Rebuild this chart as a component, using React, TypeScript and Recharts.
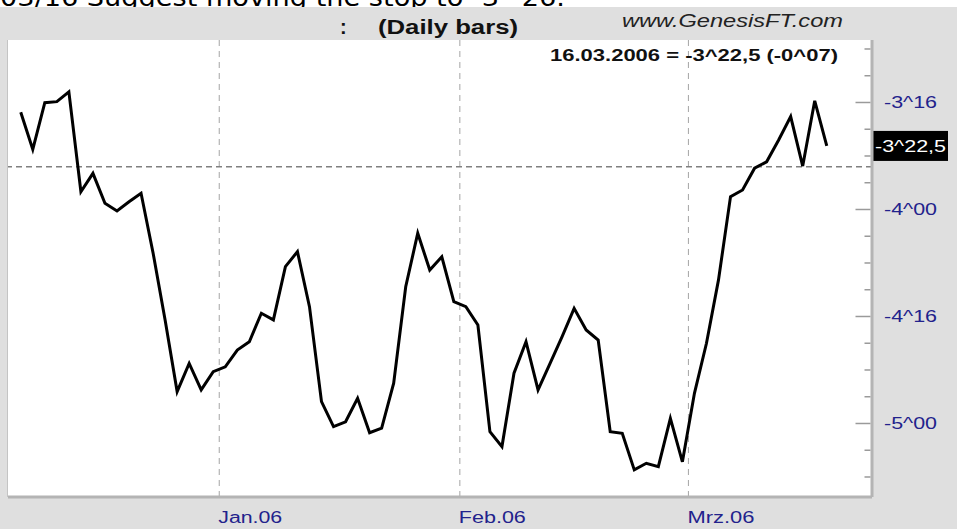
import React from 'react';
import { LineChart, Line, XAxis, YAxis, ReferenceLine } from 'recharts';

// Trading days shown on the chart (Dec 7 2005 .. Mar 16 2006)
const dates = [
  '07.12.2005', '08.12.2005', '09.12.2005', '12.12.2005', '13.12.2005', '14.12.2005', '15.12.2005', '16.12.2005',
  '19.12.2005', '20.12.2005', '21.12.2005', '22.12.2005', '23.12.2005', '27.12.2005', '28.12.2005', '29.12.2005',
  '30.12.2005',
  '03.01.2006', '04.01.2006', '05.01.2006', '06.01.2006', '09.01.2006', '10.01.2006', '11.01.2006', '12.01.2006',
  '13.01.2006', '17.01.2006', '18.01.2006', '19.01.2006', '20.01.2006', '23.01.2006', '24.01.2006', '25.01.2006',
  '26.01.2006', '27.01.2006', '30.01.2006', '31.01.2006',
  '01.02.2006', '02.02.2006', '03.02.2006', '06.02.2006', '07.02.2006', '08.02.2006', '09.02.2006', '10.02.2006',
  '13.02.2006', '14.02.2006', '15.02.2006', '16.02.2006', '17.02.2006', '21.02.2006', '22.02.2006', '23.02.2006',
  '24.02.2006', '27.02.2006', '28.02.2006',
  '01.03.2006', '02.03.2006', '03.03.2006', '06.03.2006', '07.03.2006', '08.03.2006', '09.03.2006', '10.03.2006',
  '13.03.2006', '14.03.2006', '15.03.2006', '16.03.2006',
];

// Daily closes (points, decimal)
const values = [
  -3.546, -3.719, -3.501, -3.496, -3.450, -3.917, -3.831, -3.971, -4.007, -3.964,
  -3.924, -4.203, -4.516, -4.851, -4.719, -4.843, -4.758, -4.735, -4.657, -4.618,
  -4.485, -4.516, -4.267, -4.197, -4.454, -4.898, -5.015, -4.992, -4.882, -5.043,
  -5.022, -4.812, -4.361, -4.111, -4.283, -4.221, -4.431, -4.454, -4.540, -5.038,
  -5.108, -4.765, -4.618, -4.843, -4.719, -4.594, -4.462, -4.563, -4.610, -5.038,
  -5.046, -5.217, -5.186, -5.202, -4.976, -5.179, -4.859, -4.625, -4.329, -3.940,
  -3.909, -3.807, -3.777, -3.675, -3.566, -3.797, -3.492, -3.703,
];

// Month boundaries (between trading-day indices) and their labels
const monthTicks = [16.5, 36.5, 55.5];
const monthLabels = ['Jan.06', 'Feb.06', 'Mrz.06'];

// Price axis ticks (every 4/32)
const priceTicks = [
  -3.25, -3.375, -3.5, -3.625, -3.75, -3.875, -4, -4.125, -4.25,
  -4.375, -4.5, -4.625, -4.75, -4.875, -5, -5.125, -5.25,
];

const stopLevel = -3.8;
const lastValue = -3.703;
const lastLabel = '-3^22,5';
const noteText = '03/16 Suggest moving the stop to -3^26.';
const colonText = ':';
const titleText = '(Daily bars)';
const siteText = 'www.GenesisFT.com';
const infoText = '16.03.2006 = -3^22,5 (-0^07)';

const data = values.map((v, i) => ({ i, date: dates[i], v }));

function fmt32(v: number): string {
  const a = -v;
  const whole = Math.floor(a + 1e-9);
  const frac = Math.round((a - whole) * 32);
  return '-' + whole + '^' + String(frac).padStart(2, '0');
}

const AXIS_FONT = '"Liberation Sans", Arial, sans-serif';

const YTick = (props: any) => {
  const { x, y, payload } = props;
  const v = payload.value;
  const major = Math.abs(v * 2 - Math.round(v * 2)) < 1e-6;
  const ax = x - 1.5;
  return (
    <g>
      <line x1={ax - (major ? 15 : 6)} x2={ax} y1={y} y2={y} stroke="#9a9a9a" strokeWidth={1.5} />
      {major && (
        <text
          x={x + 12}
          y={y + 6}
          fill="#22228c"
          fontSize={16}
          fontFamily={AXIS_FONT}
          textLength={53}
          lengthAdjust="spacingAndGlyphs"
        >
          {fmt32(v)}
        </text>
      )}
    </g>
  );
};

const XTick = (props: any) => {
  const { x, y, payload, index } = props;
  const idx = monthTicks.indexOf(payload.value);
  const label = monthLabels[idx >= 0 ? idx : index];
  return (
    <text
      x={x - 1}
      y={y + 26}
      fill="#22228c"
      fontSize={16}
      fontFamily={AXIS_FONT}
      textLength={idx === 0 ? 64 : 67}
      lengthAdjust="spacingAndGlyphs"
    >
      {label}
    </text>
  );
};

const LastLabel = (props: any) => {
  const vb = props.viewBox || {};
  const bx = (vb.x || 0) + (vb.width || 0) + 1;
  const y = vb.y || 0;
  return (
    <g>
      <rect x={bx} y={y - 15} width={75} height={30} fill="#000" />
      <text
        x={bx + 2}
        y={y + 6}
        fill="#fff"
        fontSize={16}
        fontFamily={AXIS_FONT}
        textLength={71}
        lengthAdjust="spacingAndGlyphs"
      >
        {lastLabel}
      </text>
    </g>
  );
};

export default function App() {
  return (
    <div style={{ position: 'absolute', left: 0, top: 0, width: 957, height: 529, background: '#fff', overflow: 'hidden' }}>
      <div style={{ position: 'absolute', left: 0, top: 7, width: 957, height: 522, background: '#dfdfdf' }} />
      <div
        style={{
          position: 'absolute',
          left: 7,
          top: 40,
          width: 865,
          height: 457,
          background: '#fff',
          borderLeft: '1px solid #c4c4c4',
          boxSizing: 'border-box',
        }}
      />
      <div style={{ position: 'absolute', left: 0, top: 0 }}>
        <LineChart width={957} height={529} data={data} margin={{ top: 40, right: 0, left: 8, bottom: 0 }}>
          <XAxis
            dataKey="i"
            type="number"
            domain={[-1.06, 70.76]}
            allowDataOverflow
            ticks={monthTicks}
            interval={0}
            height={32}
            tickSize={0}
            tickMargin={0}
            tickLine={false}
            axisLine={{ stroke: '#b4b4b4', strokeWidth: 3 }}
            tick={<XTick />}
          />
          <YAxis
            orientation="right"
            type="number"
            domain={[-5.3435, -3.208]}
            allowDataOverflow
            ticks={priceTicks}
            interval={0}
            width={85}
            tickSize={0}
            tickMargin={0}
            tickLine={false}
            axisLine={{ stroke: '#b4b4b4', strokeWidth: 3 }}
            tick={<YTick />}
          />
          {monthTicks.map((m) => (
            <ReferenceLine key={m} x={m} stroke="#a4a4a4" strokeWidth={1} strokeDasharray="6 5" />
          ))}
          <ReferenceLine y={stopLevel} stroke="#808080" strokeWidth={1.5} strokeDasharray="6 4" />
          <ReferenceLine y={lastValue} stroke="transparent" label={(p: any) => <LastLabel {...p} />} />
          <Line
            type="linear"
            dataKey="v"
            stroke="#000"
            strokeWidth={3}
            dot={false}
            activeDot={false}
            isAnimationActive={false}
          />
        </LineChart>
      </div>
      <svg width={957} height={70} style={{ position: 'absolute', left: 0, top: 0, pointerEvents: 'none' }}>
        <defs>
          <clipPath id="noteClip">
            <rect x={0} y={0} width={957} height={7} />
          </clipPath>
        </defs>
        <text
          x={0}
          y={6}
          clipPath="url(#noteClip)"
          fontSize={24}
          fontFamily='"DejaVu Sans", Verdana, sans-serif'
          fill="#000"
          textLength={565}
          lengthAdjust="spacingAndGlyphs"
        >
          {noteText}
        </text>
        <text x={340} y={34} fontSize={20} fontWeight="bold" fontFamily={AXIS_FONT} fill="#111">
          {colonText}
        </text>
        <text
          x={378}
          y={34}
          fontSize={20}
          fontWeight="bold"
          fontFamily={AXIS_FONT}
          fill="#111"
          textLength={140}
          lengthAdjust="spacingAndGlyphs"
        >
          {titleText}
        </text>
        <text
          x={622}
          y={27}
          fontSize={18}
          fontStyle="italic"
          fontFamily={AXIS_FONT}
          fill="#222"
          textLength={221}
          lengthAdjust="spacingAndGlyphs"
        >
          {siteText}
        </text>
        <text
          x={550}
          y={61}
          fontSize={17}
          fontWeight="bold"
          fontFamily={AXIS_FONT}
          fill="#111"
          textLength={288}
          lengthAdjust="spacingAndGlyphs"
        >
          {infoText}
        </text>
      </svg>
    </div>
  );
}
